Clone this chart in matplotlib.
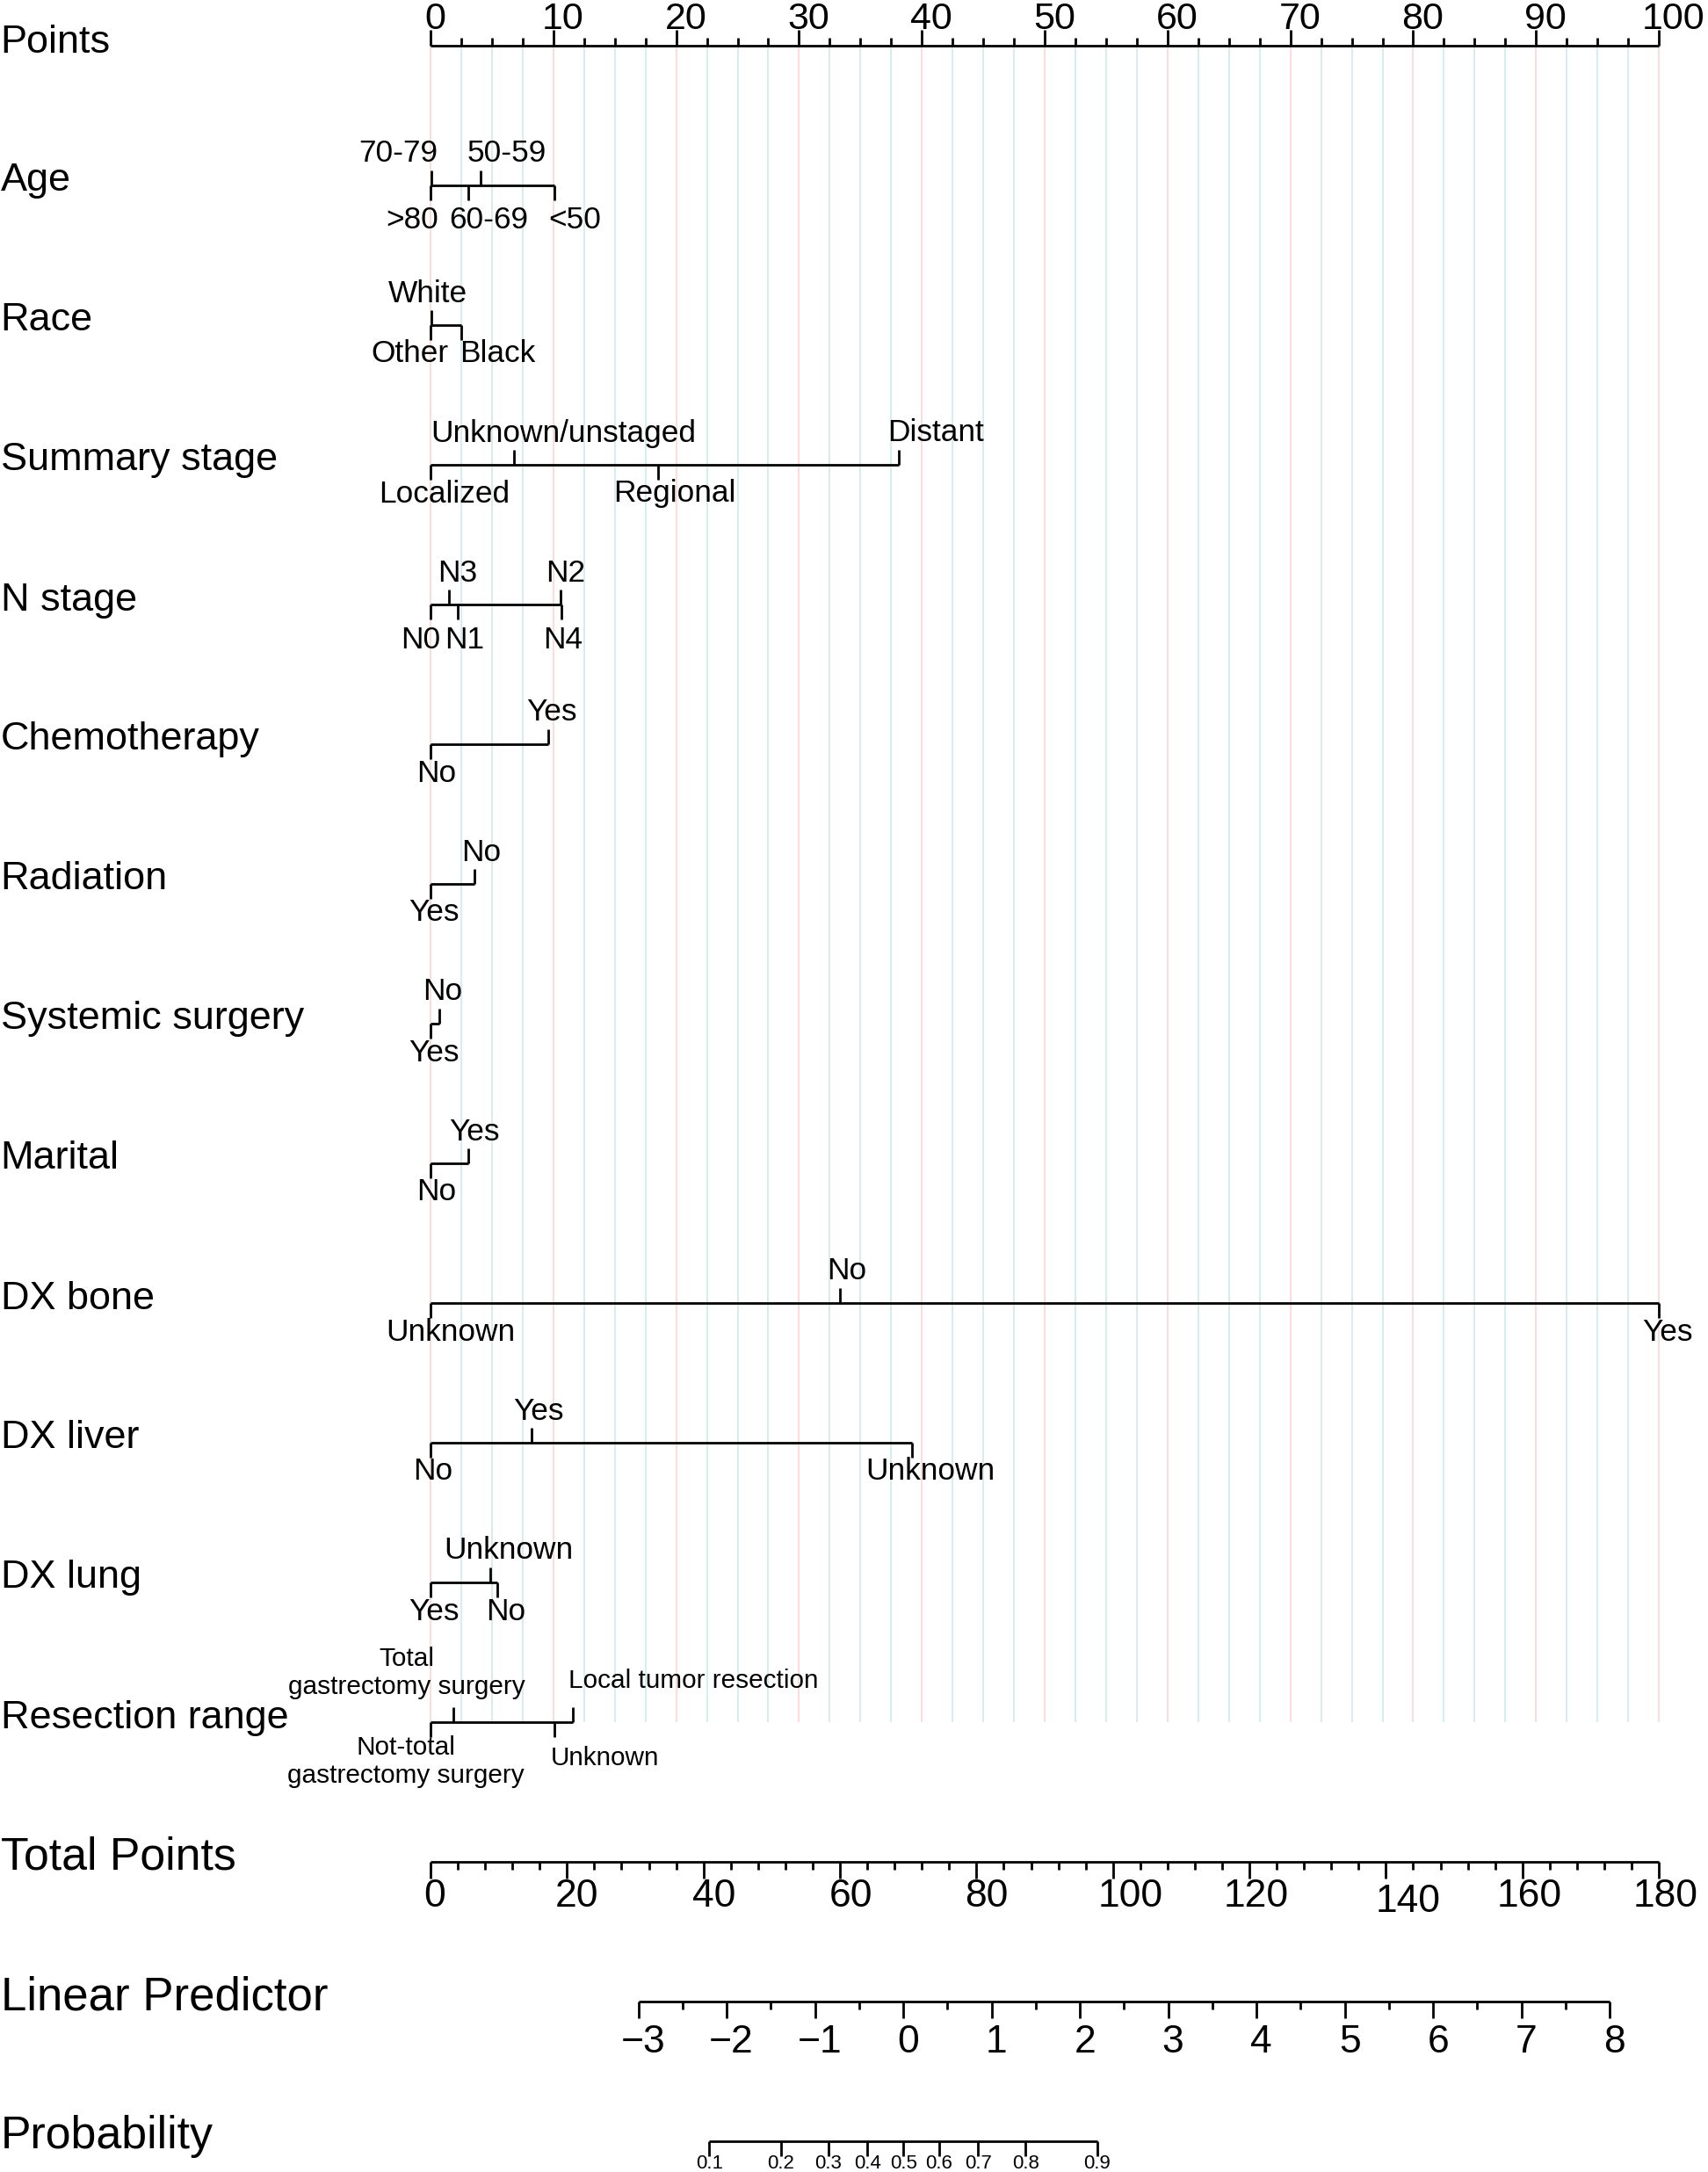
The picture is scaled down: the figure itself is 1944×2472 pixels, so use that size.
import numpy as np
import matplotlib
matplotlib.use("Agg")
import matplotlib.pyplot as plt

plt.rcParams['font.family'] = ['Liberation Sans', 'DejaVu Sans']

# ---------------------------
# Nomogram data (points per level)
# ---------------------------
age_levels = [">80", "70-79", "60-69", "50-59", "<50"]
age_points = [0, 0.1, 3.07, 4.05, 10.1]

race_levels = ["Other", "White", "Black"]
race_points = [0, 0.05, 2.48]

stage_levels = ["Localized", "Unknown/unstaged", "Regional", "Distant"]
stage_points = [0, 6.8, 18.5, 38.1]

n_levels = ["N0", "N3", "N1", "N2", "N4"]
n_points = [0, 1.48, 2.19, 10.6, 10.64]

chemo_levels = ["No", "Yes"]
chemo_points = [0, 9.6]

rad_levels = ["Yes", "No"]
rad_points = [0, 3.6]

sys_levels = ["Yes", "No"]
sys_points = [0, 0.7]

marital_levels = ["No", "Yes"]
marital_points = [0, 3.05]

bone_levels = ["Unknown", "No", "Yes"]
bone_points = [0, 33.3, 100]

liver_levels = ["No", "Yes", "Unknown"]
liver_points = [0, 8.2, 39.2]

lung_levels = ["Yes", "Unknown", "No"]
lung_points = [0, 4.86, 5.43]

resect_levels = ["Not-total\ngastrectomy surgery", "Total\ngastrectomy surgery",
                 "Unknown", "Local tumor resection"]
resect_points = [0, 1.85, 10.1, 11.6]

# label nudges (in points units) so labels sit like the original
age_dx = [-1.5, -2.7, 1.67, 2.15, 1.64]
race_dx = [-1.7, -0.3, 3.0]
stage_dx = [1.1, 4.0, 1.4, 3.0]
n_dx = [-0.8, 0.7, 0.6, 0.4, 0.1]
chemo_dx = [0.5, 0.3]
rad_dx = [0.3, 0.5]
sys_dx = [0.3, 0.3]
marital_dx = [0.5, 0.5]
bone_dx = [1.6, 0.6, 0.7]
liver_dx = [0.2, 0.6, 1.5]
lung_dx = [0.3, 1.5, 0.7]
resect_dx = [-2.0, -3.8, 4.1, 9.8]

rows = [
    ("Age", age_levels, age_points, age_dx),
    ("Race", race_levels, race_points, race_dx),
    ("Summary stage", stage_levels, stage_points, stage_dx),
    ("N stage", n_levels, n_points, n_dx),
    ("Chemotherapy", chemo_levels, chemo_points, chemo_dx),
    ("Radiation", rad_levels, rad_points, rad_dx),
    ("Systemic surgery", sys_levels, sys_points, sys_dx),
    ("Marital", marital_levels, marital_points, marital_dx),
    ("DX bone", bone_levels, bone_points, bone_dx),
    ("DX liver", liver_levels, liver_points, liver_dx),
    ("DX lung", lung_levels, lung_points, lung_dx),
    ("Resection range", resect_levels, resect_points, resect_dx),
]

total_max = 180
lp_intercept = -5.353     # linear predictor at 0 total points
lp_slope = 0.07727        # per total point
lp_ticks = list(range(-3, 9))
prob_ticks = [0.1, 0.2, 0.3, 0.4, 0.5, 0.6, 0.7, 0.8, 0.9]

# small pixel nudges of axis labels (the original labels sit a bit right of ticks)
tp_label_nudge = [5, 11, 12, 12, 11, 20, 8, 25, 8, 8]


def tp_to_x(tp):
    return np.asarray(tp) * 100.0 / total_max


def lp_to_x(lp):
    return tp_to_x((np.asarray(lp) - lp_intercept) / lp_slope)


def fmt(v):
    return str(v).replace("-", "\u2212")


# ---------------------------
# Figure: one axes, x in "points" units, y in pixel rows
# ---------------------------
fig = plt.figure(figsize=(9.72, 12.36), dpi=200)
ax = fig.add_axes([0, 0, 1, 1])
ax.set_xlim(-35.05, 104.0)
ax.set_ylim(2472, 0)
ax.axis("off")

px_per_pt = 1398 / 100.0
row_gap = 159
y0 = 52
lw = 1.0
label_x = -35.0

# grid lines
grid_x = np.arange(0, 100.01, 2.5)
last_row_y = y0 + row_gap * len(rows)
for g in grid_x:
    col = "#FBDED8" if g % 10 == 0 else "#D6EDEE"
    ax.vlines(g, y0, last_row_y, colors=col, lw=0.7, zorder=0)

# Points scale
ax.text(label_x, y0 - 3, "Points", fontsize=16.2, ha="left", va="center")
ax.hlines(y0, 0, 100, colors="black", lw=lw)
for g in grid_x:
    tl = 18 if g % 10 == 0 else 9
    ax.vlines(g, y0 - tl, y0, colors="black", lw=lw)
for v in range(0, 101, 10):
    lab = str(v)
    nudge = 5.5 * len(lab) / px_per_pt
    ax.text(v + nudge, y0 - 30, lab, fontsize=15.5, ha="center", va="center")

# variable rows
for i, (name, levels, pts, dx) in enumerate(rows, start=1):
    y = y0 + row_gap * i
    ax.text(label_x, y - 5, name, fontsize=16.2, ha="left", va="center")
    ax.hlines(y, min(pts), max(pts), colors="black", lw=lw)
    small = name == "Resection range"
    fs = 10.7 if small else 12.7
    below_gap = 40 if name in ("Age", "N stage") else 33
    order = np.argsort(pts, kind="stable")
    for k, idx in enumerate(order):
        p = pts[idx]
        above = k % 2 == 1
        if above:
            ax.vlines(p, y - 17, y, colors="black", lw=lw)
            ty = y - (47 if small else 36)
        else:
            ax.vlines(p, y, y + 17, colors="black", lw=lw)
            ty = y + (41 if small else below_gap)
        txt = levels[idx]
        if "\n" in txt:
            ty = ty + (-9 if above else 4)
        ax.text(p + dx[idx], ty, txt, fontsize=fs, ha="center", va="center",
                linespacing=1.2)

# Total Points
y_tp = y0 + row_gap * 13
ax.text(label_x, y_tp - 5, "Total Points", fontsize=18.7, ha="left", va="center")
ax.hlines(y_tp, 0, 100, colors="black", lw=lw)
for t in range(0, total_max + 1, 4):
    tl = 19 if t % 20 == 0 else 9
    ax.vlines(tp_to_x(t), y_tp, y_tp + tl, colors="black", lw=lw)
for t, nd in zip(range(0, total_max + 1, 20), tp_label_nudge):
    dy = 6 if t == 140 else 0
    ax.text(tp_to_x(t) + nd / px_per_pt, y_tp + 40 + dy, str(t), fontsize=16,
            ha="center", va="center")

# Linear Predictor
y_lp = y0 + row_gap * 14
ax.text(label_x, y_lp - 5, "Linear Predictor", fontsize=19, ha="left", va="center")
ax.hlines(y_lp, lp_to_x(lp_ticks[0]), lp_to_x(lp_ticks[-1]), colors="black", lw=lw)
for l in np.arange(lp_ticks[0], lp_ticks[-1] + 0.01, 0.5):
    tl = 19 if float(l).is_integer() else 9
    ax.vlines(lp_to_x(l), y_lp, y_lp + tl, colors="black", lw=lw)
for l in lp_ticks:
    ax.text(lp_to_x(l) + 5.5 / px_per_pt, y_lp + 46, fmt(l), fontsize=16,
            ha="center", va="center")

# Probability
y_pr = y0 + row_gap * 15
ax.text(label_x, y_pr - 5, "Probability", fontsize=18.7, ha="left", va="center")
prob_x = lp_to_x(np.log(np.array(prob_ticks) / (1 - np.array(prob_ticks))))
ax.hlines(y_pr, prob_x[0], prob_x[-1], colors="black", lw=lw)
for px, p in zip(prob_x, prob_ticks):
    ax.vlines(px, y_pr, y_pr + 17, colors="black", lw=lw)
    ax.text(px, y_pr + 26, f"{p:.1f}", fontsize=8, ha="center", va="center")

fig.savefig("out.png", dpi=200)
